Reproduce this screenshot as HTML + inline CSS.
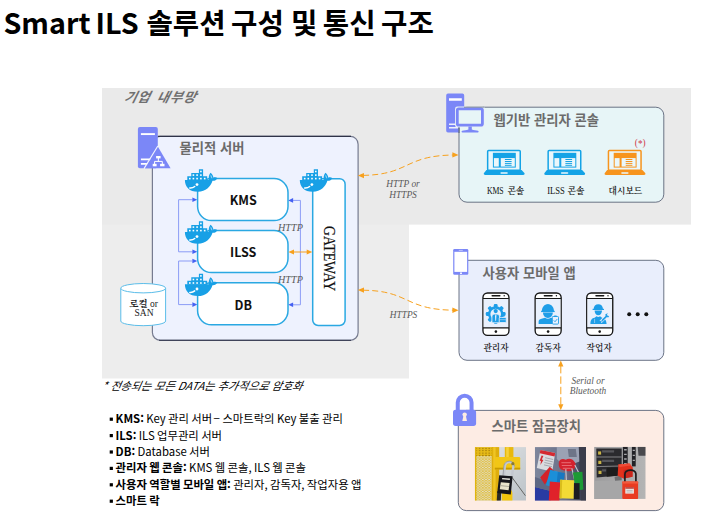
<!DOCTYPE html>
<html lang="ko">
<head>
<meta charset="utf-8">
<title>Smart ILS 솔루션 구성 및 통신 구조</title>
<style>
html,body{margin:0;padding:0;background:#fff;}
body{width:710px;height:528px;overflow:hidden;position:relative;font-family:"Noto Sans CJK KR","Liberation Sans",sans-serif;}
svg{position:absolute;left:0;top:0;display:block;}
.sans{font-family:"Noto Sans CJK KR","Liberation Sans",sans-serif;}
.serif{font-family:"Liberation Serif","Noto Serif CJK SC",serif;}
.ttl{font-weight:700;font-size:28.7px;fill:#000;}
.hd{font-weight:700;font-size:13.3px;fill:#6b6b6b;}
.box{font-weight:700;font-size:12.5px;fill:#111;}
.sm{font-size:9.4px;fill:#5a5a5a;font-style:italic;}
.lab{font-size:8.7px;fill:#111;font-weight:600;}
.bl{font-size:11.35px;fill:#000;word-spacing:-0.8px;}
.b{font-weight:700;}
.lat{font-size:8px;font-weight:400;}
</style>
</head>
<body>
<svg width="710" height="528" viewBox="0 0 710 528">
<defs>
  <g id="whale">
    <path fill="#18a0e6" d="M0 10.6 H23.9 C23.5 8 24.1 5.2 25.6 3.5 C27.3 4.8 28.3 6.6 28.5 8.4 C29.8 7.8 31.6 8 32.6 8.9 C31.6 10.7 29.6 11.7 27.6 11.5 C25.6 17.5 21 22.4 13 22.4 C4.5 22.4 0 17.5 0 10.6 Z"/>
    <path fill="#18a0e6" d="M2.4 11 V7 H6.4 V3.6 H14 V0 H18.2 V7 H22.3 V11 Z"/>
    <path fill="#8fd0f3" d="M25.7 5.2 C26.9 6.4 27.5 8 27.3 9.4 C26 8.6 25.3 6.9 25.7 5.2 Z"/>
    <g fill="#fff">
      <rect x="4.1" y="8.5" width="1.6" height="1.6"/><rect x="7.7" y="8.5" width="1.6" height="1.6"/><rect x="11.4" y="8.5" width="1.6" height="1.6"/><rect x="15.2" y="8.5" width="1.6" height="1.6"/><rect x="19" y="8.5" width="1.6" height="1.6"/>
      <rect x="7.7" y="5" width="1.6" height="1.6"/><rect x="11.4" y="5" width="1.6" height="1.6"/><rect x="15.2" y="5" width="1.6" height="1.6"/>
      <rect x="15.2" y="1.4" width="1.6" height="1.6"/>
    </g>
    <circle cx="12.1" cy="15.3" r="1.4" fill="#fff"/>
    <path d="M4.9 18.7 C6.6 18.9 8.6 18.2 9.8 17.2" fill="none" stroke="#fff" stroke-width="1.5" stroke-linecap="round"/>
  </g>
  <marker id="ab" markerWidth="6" markerHeight="6" refX="5.5" refY="3" orient="auto" markerUnits="userSpaceOnUse"><path d="M0 0.4 L5.5 3 L0 5.6 Z" fill="#3f5cf0"/></marker>
  <marker id="ao" markerWidth="7" markerHeight="7" refX="6" refY="3.5" orient="auto" markerUnits="userSpaceOnUse"><path d="M0 0.7 L6 3.5 L0 6.3 Z" fill="#f7a01c"/></marker>
  <marker id="aos" markerWidth="7" markerHeight="7" refX="6" refY="3.5" orient="auto-start-reverse" markerUnits="userSpaceOnUse"><path d="M0 0.7 L6 3.5 L0 6.3 Z" fill="#f7a01c"/></marker>
  <g id="laptop">
    <rect x="3.85" y="0.75" width="32.6" height="19.6" rx="1" fill="#eaf7fb" stroke="currentColor" stroke-width="1.5"/>
    <rect x="9.1" y="3" width="22.9" height="14.8" fill="currentColor"/>
    <rect x="10.1" y="8.3" width="4.9" height="8.5" fill="#eaf7fb"/>
    <rect x="17" y="8.3" width="14" height="8.5" fill="#eaf7fb"/>
    <path d="M21.1 9.7H27.8M21.1 11.7H27.8M21.1 13.6H27.8M21.1 15.5H27.8" stroke="currentColor" stroke-width="1"/>
    <path d="M2.6 20.2 H37.8 L40.6 23.2 C41.2 24.2 40.6 25.2 39.4 25.2 H1.4 C0.2 25.2 -0.4 24.2 0.2 23.2 Z" fill="currentColor"/>
    <rect x="16.6" y="22.4" width="7.4" height="1.6" rx="0.8" fill="#eaf7fb"/>
  </g>
  <g id="phone">
    <rect x="0.75" y="0.75" width="26" height="42.4" rx="4.6" fill="#fff" stroke="#161616" stroke-width="1.35"/>
    <rect x="1.5" y="6.4" width="24.5" height="29.2" fill="#e9f0fc"/>
    <path d="M0.8 6.3 H26.7 M0.8 35.7 H26.7" stroke="#161616" stroke-width="1.1"/>
    <path d="M10 3.6 H17.6" stroke="#161616" stroke-width="1.5" stroke-linecap="round"/>
    <circle cx="22" cy="3.6" r="0.7" fill="#161616"/>
    <circle cx="13.7" cy="39.4" r="1.3" fill="#161616"/>
  </g>
  <g id="ic1" fill="#1e9ee8">
    <rect x="11.60" y="11.90" width="3.8" height="4" rx="1.1" transform="rotate(0 13.5 21.8)"/><rect x="11.60" y="11.90" width="3.8" height="4" rx="1.1" transform="rotate(45 13.5 21.8)"/><rect x="11.60" y="11.90" width="3.8" height="4" rx="1.1" transform="rotate(90 13.5 21.8)"/><rect x="11.60" y="11.90" width="3.8" height="4" rx="1.1" transform="rotate(135 13.5 21.8)"/><rect x="11.60" y="11.90" width="3.8" height="4" rx="1.1" transform="rotate(180 13.5 21.8)"/><rect x="11.60" y="11.90" width="3.8" height="4" rx="1.1" transform="rotate(225 13.5 21.8)"/><rect x="11.60" y="11.90" width="3.8" height="4" rx="1.1" transform="rotate(270 13.5 21.8)"/><rect x="11.60" y="11.90" width="3.8" height="4" rx="1.1" transform="rotate(315 13.5 21.8)"/>
    <circle cx="13.5" cy="21.8" r="7.7"/>
    <circle cx="13.5" cy="21.8" r="5.3" fill="#e9f0fc"/>
    <path d="M9.7 30.6 V24.6 C9.7 22.8 10.9 21.9 12.3 21.9 H14.7 C16.1 21.9 17.3 22.8 17.3 24.6 V30.6 Z" stroke="#e9f0fc" stroke-width="0.9"/>
    <circle cx="13.5" cy="18.9" r="2.1"/>
    <path d="M13.5 22.4 L14.2 23.4 L13.9 28.2 L13.5 29 L13.1 28.2 L12.8 23.4 Z" fill="#e9f0fc"/>
    <rect x="17" y="25.3" width="7" height="5" rx="0.6" stroke="#e9f0fc" stroke-width="0.8"/>
    <path d="M19.2 25 V24 H21.8 V25" fill="none" stroke="#1e9ee8" stroke-width="0.8"/>
    <path d="M17.4 27.5 H23.6" stroke="#e9f0fc" stroke-width="0.5"/>
  </g>
  <g id="ic2" fill="#1e9ee8">
    <path d="M7.4 19.4 C7.4 14.6 10 12 13.5 12 C17 12 19.6 14.6 19.6 19.4 Z"/>
    <path d="M6.7 18.6 H20.3 V19.9 H6.7 Z"/>
    <path d="M12.6 12.2 H14.4 V15.4 H12.6 Z" fill="#1e9ee8"/>
    <path d="M8.6 20.4 H18.4 C18.4 23.6 16.2 25.8 13.5 25.8 C10.8 25.8 8.6 23.6 8.6 20.4 Z"/>
    <path d="M4.2 31.8 V29.6 C4.2 27.6 5.6 26.6 8 26.2 L10.6 25.6 C12.4 27 14.6 27 16.4 25.6 L19 26.2 C21.4 26.6 22.8 27.6 22.8 29.6 V31.8 Z"/>
    <rect x="17.9" y="24.3" width="6.2" height="7.6" rx="0.8" fill="#e9f0fc" stroke="#1e9ee8" stroke-width="0.9"/>
    <rect x="19.6" y="23.4" width="2.8" height="1.5" rx="0.4"/>
    <path d="M19.4 28.2 L20.6 29.5 L22.8 26.9" fill="none" stroke="#1e9ee8" stroke-width="0.9"/>
  </g>
  <g id="ic3" fill="#1e9ee8">
    <path d="M7.6 17.2 C7.6 13.8 9.6 12 12.3 12 C15 12 17 13.8 17 17.2 Z"/>
    <path d="M6.6 16.6 H18 V17.8 H6.6 Z"/>
    <path d="M8.6 18.2 H16 C16 20.8 14.4 23 12.3 23 C10.2 23 8.6 20.8 8.6 18.2 Z"/>
    <path d="M4.4 31.8 C4.4 27.8 6 26 8.6 25.6 L10.6 24 C11.6 25 13 25 14 24 L16 25.6 C18.6 26 20.4 27.8 20.6 31.8 Z"/>
    <path d="M14.6 29.6 L20.2 24.2" stroke="#e9f0fc" stroke-width="3" fill="none"/>
    <path d="M14.8 29.6 L20.4 24.2" stroke="#1e9ee8" stroke-width="1.7" fill="none" stroke-linecap="round"/>
    <path d="M19.2 22.4 L20 24.6 L22.2 25.2 L23.2 23.8 L21.6 23.6 L21 22.2 L21.8 20.8 Z"/>
    <path d="M8.6 26.6 V30.8 M15.6 27.4 V30.8" stroke="#e9f0fc" stroke-width="0.5"/>
  </g>
  <pattern id="mesh1" width="3.2" height="2.4" patternUnits="userSpaceOnUse"><rect width="3.2" height="2.4" fill="#e6ba16"/><ellipse cx="1.6" cy="1.2" rx="0.9" ry="0.6" fill="#a67f0a"/></pattern>
  <pattern id="mesh2" width="3.2" height="2.4" patternUnits="userSpaceOnUse"><rect width="3.2" height="2.4" fill="#e3dfc8"/><path d="M0 1.2 L1.6 0 L3.2 1.2 L1.6 2.4 Z" fill="none" stroke="#e0b92a" stroke-width="0.7"/></pattern>
  <clipPath id="cp1"><rect x="0" y="0" width="51.2" height="53.6"/></clipPath>
  <clipPath id="cp2"><rect x="0" y="0" width="51.2" height="53.6"/></clipPath>
  <clipPath id="cp3"><rect x="0" y="0" width="51.6" height="52.1"/></clipPath>
  <filter id="soft" x="-5%" y="-5%" width="110%" height="110%"><feGaussianBlur stdDeviation="0.35"/></filter>
  <linearGradient id="g1bg" x1="0" x2="1" y1="0" y2="1"><stop offset="0" stop-color="#e4e6e8"/><stop offset="1" stop-color="#bcc3c8"/></linearGradient>
  <linearGradient id="g2bg" x1="0" x2="1" y1="0" y2="0"><stop offset="0" stop-color="#7d869c"/><stop offset="0.6" stop-color="#6a7088"/><stop offset="1" stop-color="#35384a"/></linearGradient>
  <linearGradient id="g3bg" x1="0" x2="1" y1="0" y2="0"><stop offset="0" stop-color="#9c9c9e"/><stop offset="1" stop-color="#b4b4b4"/></linearGradient>
</defs>

<!-- background regions -->
<rect x="102" y="224" width="307" height="154.5" fill="#ededed"/>
<rect x="102" y="88" width="589" height="136.6" fill="#eaeaea"/>

<!-- physical server box -->
<rect x="152.4" y="136.4" width="205.7" height="203.9" rx="7.8" fill="#eef2fe" stroke="#767b90" stroke-width="1.2"/>
<path d="M158 136.4 H351 M159 340.3 H351" stroke="#2f3348" stroke-width="1.1" fill="none"/>

<!-- console box -->
<rect x="459" y="107.2" width="204.8" height="95" rx="8" fill="#e7f5f7" stroke="#5b6478" stroke-width="0.9"/>
<!-- mobile box -->
<rect x="459" y="260.3" width="204.8" height="100" rx="8" fill="#e9eefc" stroke="#5b6478" stroke-width="0.9"/>
<!-- lock box -->
<rect x="458.3" y="410.4" width="205.5" height="100.2" rx="8" fill="#fdece4" stroke="#5b6478" stroke-width="0.9"/>

<!-- ===== server section ===== -->
<text class="sans" x="123.4" y="101.6" style="font-size:13.4px;font-style:italic;font-weight:700;fill:#707070;letter-spacing:0.9px;word-spacing:1.6px" transform="translate(123.4 101.6) skewX(-14) translate(-123.4 -101.6)">기업 내부망</text>

<!-- server icon -->
<g>
  <rect x="137.9" y="126.9" width="19.9" height="41.4" rx="2" fill="#7b87f7"/>
  <path d="M140.9 134.1 H154.9" stroke="#fff" stroke-width="1.9"/>
  <path d="M140.9 159.4 H150.5 M140.9 163.9 H147.5" stroke="#fff" stroke-width="1.6"/>
  <path d="M158.1 146.9 L170.6 168.3 H144.9 Z" fill="#7b87f7"/>
  <path d="M157.8 146 L144 168.6" stroke="#f4f5fe" stroke-width="1.1"/>
  <g fill="#fff"><rect x="156.1" y="156" width="4.5" height="2.4"/><rect x="152.7" y="163.8" width="3.9" height="2.5"/><rect x="160.1" y="163.8" width="4.4" height="2.5"/></g>
  <path d="M158.35 158 V161.4 M154.6 164 V161.4 H162.3 V164" stroke="#fff" stroke-width="1" fill="none"/>
</g>
<text class="sans hd" x="179.5" y="153.3">물리적 서버</text>

<!-- blue connectors (left) -->
<g fill="none" stroke="#8b9cf6" stroke-width="1">
  <path d="M192.5 199.7 H178.6 V251.8 H192.5"/>
  <path d="M192.5 261 H178.6 V304.6 H192.5"/>
  <path d="M293 200.4 H300.4 V304.8 H293"/>
</g>
<g fill="#4561f2">
  <path d="M197.3 199.7 L192.4 197.4 V202.0 Z"/><path d="M197.3 251.8 L192.4 249.5 V254.1 Z"/>
  <path d="M197.3 261 L192.4 258.7 V263.3 Z"/><path d="M197.3 304.6 L192.4 302.3 V306.9 Z"/>
  <path d="M288.2 200.4 L293.1 198.1 V202.7 Z"/><path d="M288.2 304.8 L293.1 302.5 V307.1 Z"/>
</g>

<!-- service boxes -->
<g fill="#fff" stroke="#2aa8e2" stroke-width="1.5">
  <rect x="197.6" y="178.6" width="90.4" height="42" rx="14"/>
  <rect x="197.6" y="230.6" width="90.4" height="42" rx="14"/>
  <rect x="197.6" y="282.8" width="90.4" height="42" rx="14"/>
  <rect x="312.7" y="178.7" width="32.4" height="146.8" rx="5.5"/>
</g>
<use href="#whale" x="184.9" y="169.3"/>
<use href="#whale" x="184.9" y="221.3"/>
<use href="#whale" x="184.9" y="273.7"/>
<use href="#whale" x="299.8" y="169.3"/>
<text class="sans box" x="243.2" y="205.2" text-anchor="middle">KMS</text>
<text class="sans box" x="243.2" y="257.3" text-anchor="middle">ILSS</text>
<text class="sans box" x="243.3" y="309.6" text-anchor="middle">DB</text>
<text class="serif" transform="translate(324.3 226) rotate(90) scale(0.86 1)" style="font-size:16px;fill:#111;stroke:#111;stroke-width:0.2px">GATEWAY</text>

<!-- orange ILSS <-> gateway -->
<path d="M293.5 252 H307" stroke="#f7a01c" stroke-width="1" fill="none"/>
<path d="M288.4 252 L294 249.4 V254.6 Z M312.3 252 L306.7 249.4 V254.6 Z" fill="#f7a01c"/>
<text class="serif sm" x="278" y="230.8" style="font-size:10.2px">HTTP</text>
<text class="serif sm" x="278" y="282.8" style="font-size:10.2px">HTTP</text>

<!-- storage cylinder -->
<g stroke="#5bbde9" stroke-width="1" fill="#fff">
  <path d="M120.8 288.2 V321 A22.4 4.7 0 0 0 165.6 321 V288.2"/>
  <ellipse cx="143.2" cy="288.2" rx="22.4" ry="4.7"/>
</g>
<text class="serif" x="143.6" y="306.8" text-anchor="middle" style="font-size:9.5px;fill:#222"><tspan style="font-weight:700">로컬</tspan> or</text>
<text class="serif" x="144" y="315.6" text-anchor="middle" style="font-size:9.5px;fill:#222">SAN</text>

<!-- ===== console section ===== -->
<g>
  <path d="M448 93.6 H462.4 A1.8 1.8 0 0 1 464.2 95.4 V107.3 H459 V132.5 H448 A1.8 1.8 0 0 1 446.2 130.7 V95.4 A1.8 1.8 0 0 1 448 93.6 Z" fill="#7b87f7"/>
  <path d="M449 99.5 H461.8" stroke="#fff" stroke-width="2.5"/>
  <path d="M449 124.3 H455.4 M449 127.7 H458" stroke="#eef0fb" stroke-width="1.5"/>
  <rect x="455" y="106.5" width="29.8" height="21" rx="2.4" fill="#e9f1f6"/>
  <path d="M459 127.4 V133" stroke="#5b6478" stroke-width="1.1"/>
  <rect x="457.3" y="108.8" width="25.1" height="16.4" rx="1.4" fill="#e7f5f7" stroke="#7b87f7" stroke-width="2.8"/>
  <path d="M464 107.2 H484" stroke="#5b6478" stroke-width="0.9" opacity="0.75"/>
  <path d="M468.4 126.4 H471.8 V129.4 C473.6 130 476.4 130.2 478 130.8 C479 131.2 478.8 132.5 477.8 132.5 H462.4 C461.4 132.5 461.2 131.2 462.2 130.8 C463.8 130.2 466.6 130 468.4 129.4 Z" fill="#7b87f7"/>
</g>
<text class="sans hd" x="493.6" y="125">웹기반 관리자 콘솔</text>
<use href="#laptop" x="483.8" y="149.8" color="#14a3e6"/>
<use href="#laptop" x="544.3" y="149.8" color="#14a3e6"/>
<use href="#laptop" x="604.6" y="149.8" color="#f7941d"/>
<text class="serif" x="486.9" y="193.9" textLength="16.8" lengthAdjust="spacingAndGlyphs" style="font-size:10px;fill:#111">KMS</text><text class="serif lab" x="507.4" y="194">콘솔</text>
<text class="serif" x="547.2" y="193.9" textLength="17.6" lengthAdjust="spacingAndGlyphs" style="font-size:10px;fill:#111">ILSS</text><text class="serif lab" x="567.5" y="194">콘솔</text>
<text class="serif lab" x="625.4" y="194" text-anchor="middle">대시보드</text>
<text class="serif" x="634.8" y="145.6" style="font-size:9.3px;fill:#cf3a48">(<tspan dy="1.7">*</tspan><tspan dy="-1.7">)</tspan></text>

<!-- ===== mobile section ===== -->
<rect x="453.2" y="249" width="15.1" height="25.7" rx="1.3" fill="#7b87f7"/>
<rect x="454.4" y="251.8" width="12.7" height="20.1" fill="#fff"/>
<path d="M458.8 250.4 H462.8" stroke="#cfd4fc" stroke-width="0.8"/>
<rect x="460.1" y="272.5" width="1.8" height="1.5" fill="#fff"/>
<text class="sans hd" x="482.6" y="278">사용자 모바일 앱</text>
<use href="#phone" x="482.2" y="292.2"/><use href="#ic1" x="482.2" y="292.2"/>
<use href="#phone" x="534.4" y="292.2"/><use href="#ic2" x="534.4" y="292.2"/>
<use href="#phone" x="586" y="292.2"/><use href="#ic3" x="586" y="292.2"/>
<text class="serif lab" x="496" y="351" text-anchor="middle">관리자</text>
<text class="serif lab" x="548.2" y="351" text-anchor="middle">감독자</text>
<text class="serif lab" x="599.2" y="351" text-anchor="middle">작업자</text>
<g fill="#111"><circle cx="629.2" cy="314.3" r="2"/><circle cx="637.7" cy="314.3" r="2"/><circle cx="646.3" cy="314.3" r="2"/></g>

<!-- ===== lock section ===== -->
<path d="M457.75 411 V402.6 A6.9 6.9 0 0 1 471.55 402.6 V411" fill="none" stroke="#7b87f7" stroke-width="4"/>
<rect x="453" y="409.8" width="23.1" height="16.1" rx="2.6" fill="#7b87f7"/>
<circle cx="464.65" cy="414.6" r="2.2" fill="#fdece2"/><path d="M463.5 415.5 H465.8 L467 421.1 H462.3 Z" fill="#fdece2"/>
<text class="sans hd" x="491.6" y="430.9">스마트 잠금장치</text>

<!-- ===== photos ===== -->
<g transform="translate(474.8 447.1)" clip-path="url(#cp1)"><g filter="url(#soft)">
  <rect width="51.2" height="53.6" fill="url(#g1bg)"/>
  <rect x="0" y="0" width="19" height="9" fill="url(#mesh1)"/>
  <rect x="0" y="9" width="19" height="44.6" fill="url(#mesh2)"/>
  <rect x="0" y="0" width="1.6" height="53.6" fill="#e0b410"/>
  <rect x="17" y="0" width="7.4" height="53.6" fill="#dfae08"/>
  <rect x="18.4" y="0" width="2.4" height="53.6" fill="#f0c526"/>
  <rect x="30" y="0" width="8.6" height="22" fill="#e9b90c"/>
  <rect x="31.4" y="0" width="2.6" height="22" fill="#f6d23a"/>
  <path d="M27 53.6 V45 C27 42.4 29 41.4 32 41.4 C35.4 41.4 37.4 43 37.6 46 V53.6 Z" fill="#f1c410"/>
  <rect x="20" y="10" width="25.4" height="12.4" rx="1.2" fill="#f2c616"/>
  <rect x="20" y="20.6" width="25.4" height="1.8" fill="#c79a06"/>
  <path d="M37 30 L50.6 48.6" stroke="#5a5a58" stroke-width="0.9"/>
  <path d="M22.6 44 L26.4 44.6 L26 53.6 H22 Z" fill="#2a2a28"/>
  <path d="M29 30 L30 19.6 C30.4 13.6 38.6 13.4 38.6 19.4 L37 30" fill="none" stroke="#c4c8cf" stroke-width="2.4"/>
  <path d="M28 30 L29 19.6 C29.4 12.4 39.6 12.2 39.6 19.4" fill="none" stroke="#7f838c" stroke-width="0.6"/>
  <circle cx="38" cy="16.6" r="1.6" fill="#8a7a30"/>
  <path d="M24.4 28.2 L37.8 29.2 L36 47.4 L22.4 45.8 Z" fill="#17181a"/>
  <path d="M27.4 30.8 L35.2 31.4 L35 32.8 L27.2 32.2 Z" fill="#e8e8e2"/>
  <path d="M26 35.2 L34.8 36 L33.8 43.2 L25 42.2 Z" fill="#e9e4cc"/>
  <path d="M26.2 38.6 L34.2 39.4" stroke="#6a6a60" stroke-width="0.5"/>
</g></g>

<g transform="translate(534.8 447.1)" clip-path="url(#cp2)"><g filter="url(#soft)">
  <rect width="51.2" height="53.6" fill="url(#g2bg)"/>
  <path d="M0 40 L16 44 L16 53.6 H0 Z" fill="#2c3aa2"/>
  <path d="M0 30 L18 36 L16 44 L0 40 Z" fill="#5f6884"/>
  <path d="M22 0 H44 L46 14 L30 20 L22 12 Z" fill="#9ba2b4"/>
  <path d="M33 2 H41 L42 10 H34 Z" fill="#6e7488"/>
  <path d="M44 0 H51.2 V53.6 H46 Z" fill="#3a3c4c"/>
  <path d="M5.6 2.8 L20.4 6 L17.4 24.6 L2 21 Z" fill="#d9dbe0"/>
  <path d="M5.6 2.8 L20.4 6 L19.8 9.4 L5 6.2 Z" fill="#d42a30"/>
  <path d="M6.8 8.4 L8.6 8.8 L7 12.4 L8.6 12.8 L5.6 18 L6.2 14 L4.8 13.6 Z" fill="#d42a30"/>
  <path d="M10.4 10.6 L18.4 12.4 M10 13 L18 14.8 M9.6 15.4 L17.6 17.2 M9.2 17.8 L17.2 19.6" stroke="#8e9098" stroke-width="0.7"/>
  <path d="M24 16 C24 12 28 11 31 12.6 C34 10.6 38 11.6 39.6 14.6 C41.6 16.6 41 20.6 38.4 22.6 C36 24.6 31 24.6 28 23 C25 22.6 23.6 19 24 16 Z" fill="#d3242e"/>
  <path d="M26.6 15.6 H36 M27 18.4 H37 M28 21.2 H36" stroke="#f08a90" stroke-width="0.7"/>
  <path d="M5.4 30.4 L15 19.6 L19.2 23.6 L10 37.4 Z" fill="#d3222a"/>
  <path d="M21 24 L19.6 35 M31 22 L31.6 33.6 M37 21 L40.6 36.6 M40 18 L44.6 27" stroke="#c4c8d2" stroke-width="1.1" fill="none"/>
  <path d="M38 25.4 L47.6 24.6 L48.6 42.4 L41 43.6 Z" fill="#1f9a34"/>
  <path d="M15.4 22.6 L26.6 25.4 L22.4 41 L11.2 38.2 Z" fill="#1e8fd8"/>
  <path d="M23 25 L30 26 L28.6 36 L22 35 Z" fill="#1878c2"/>
  <path d="M38.8 36 H44.8 V52 H38.8 Z" fill="#1d1e24"/>
  <path d="M15 34.4 L25.6 35.4 L24.6 53.6 H14 Z" fill="#e0212a"/>
  <path d="M25.4 32.6 L39.2 33.2 L38.8 51.6 L24.8 51.2 Z" fill="#f3da34"/>
  <path d="M25.4 32.6 L27.4 32.7 L26.8 51.3 L24.8 51.2 Z" fill="#d9bd1e"/>
</g></g>

<g transform="translate(594.1 446.8)" clip-path="url(#cp3)"><g filter="url(#soft)">
  <rect width="51.6" height="52.1" fill="url(#g3bg)"/>
  <rect x="0" y="34" width="28" height="18.1" fill="#a6a6a7"/>
  <path d="M2.2 1.6 H27.6 V28.4 L2.6 30.6 Z" fill="#2b2b2e"/>
  <path d="M2.2 10.2 H27.6 M2.4 19.8 L27.6 19.2" stroke="#8c8c8e" stroke-width="0.9"/>
  <path d="M12.6 21 L23.6 20.6 V29 L12.6 30 Z" fill="#1b1b1d"/>
  <path d="M8 4.6 H20 M8 14 H20 M8 23.6 H12" stroke="#55555a" stroke-width="2.2"/>
  <rect x="4" y="4.6" width="3" height="3.2" fill="#c9b347"/><rect x="4.2" y="14" width="3" height="3.2" fill="#c9b347"/><rect x="4.4" y="24" width="3" height="3.2" fill="#c9b347"/>
  <rect x="28.8" y="0" width="4.8" height="20.6" fill="#232326"/>
  <rect x="37.8" y="0" width="3.8" height="19.6" fill="#232326"/>
  <path d="M30 3 H32.6 M30 7.6 H32.6 M30 12.2 H32.6 M30 16.8 H32.6 M38.6 3.6 H40.8 M38.6 8.6 H40.8 M38.6 13.6 H40.8" stroke="#a9a9ac" stroke-width="1.4"/>
  <path d="M43.6 0 H51.6 V9 H44.4 Z" fill="#4a4a4e"/>
  <path d="M20.4 30 L27.6 28.6 V33.4 L21 34 Z" fill="#6e6e70"/>
  <path d="M24.2 17.6 L35.4 16.8 L38.6 20.6 L38.4 30 L29.4 31.6 L23.6 29 Z" fill="#e2301f"/>
  <path d="M24.2 17.6 L35.4 16.8 L37 18.8 L25.4 20.2 Z" fill="#f04c36"/>
  <path d="M29.4 23.2 L38.4 22 V30 L29.4 31.6 Z" fill="#c9261a"/>
  <path d="M30.8 36 V27.4 C30.8 22.6 41.6 21.6 41.8 27 V36" fill="none" stroke="#1c1c1e" stroke-width="1.7"/>
  <rect x="28.2" y="34.6" width="15.8" height="17.5" rx="0.9" fill="#e93a20"/>
  <rect x="28.2" y="34.6" width="15.8" height="2.2" fill="#f25a3c"/>
  <rect x="31.2" y="40.4" width="8.6" height="6.4" fill="#ece8e6"/>
  <rect x="31.2" y="40.4" width="8.6" height="1.5" fill="#b5322a"/>
  <path d="M32.4 43.6 H38.6 M32.4 45.2 H38.6" stroke="#8a8a8a" stroke-width="0.5"/>
</g></g>

<!-- ===== dashed orange connectors ===== -->
<g fill="none" stroke="#f7a11e" stroke-width="1" stroke-dasharray="6 3.2">
  <path d="M363 175.4 C410 174.5 404 155.6 453.5 155"/>
  <path d="M363 290.2 C410 290.8 404 309.6 453.5 310.2"/>
  <path d="M560.8 366 V405.5" stroke-dasharray="7.4 3"/>
</g>
<g fill="#f7a11e">
  <path d="M357.8 175.6 L364 172.9 V178.2 Z"/><path d="M458.6 154.9 L452.4 152.3 V157.6 Z"/>
  <path d="M357.8 290 L364 287.4 V292.7 Z"/><path d="M458.6 310.2 L452.4 307.6 V312.9 Z"/>
  <path d="M560.8 360.6 L558.2 366.6 H563.4 Z"/><path d="M560.8 410.3 L558.2 404.3 H563.4 Z"/>
</g>
<text class="serif sm" x="403" y="187" text-anchor="middle">HTTP or</text>
<text class="serif sm" x="403" y="197.6" text-anchor="middle">HTTPS</text>
<text class="serif sm" x="403.5" y="317.9" text-anchor="middle">HTTPS</text>
<text class="serif sm" x="588" y="383.9" text-anchor="middle">Serial or</text>
<text class="serif sm" x="588" y="394.4" text-anchor="middle">Bluetooth</text>

<!-- ===== notes ===== -->
<text class="sans" x="101.6" y="390.3" style="font-size:11.1px;font-style:italic;fill:#000" transform="translate(101.6 390.3) skewX(-12) translate(-101.6 -390.3)">* 전송되는 모든 DATA는 추가적으로 암호화</text>
<g fill="#000"><rect x="109.7" y="417.6" width="3.2" height="3.2"/><rect x="109.7" y="434.0" width="3.2" height="3.2"/><rect x="109.7" y="450.4" width="3.2" height="3.2"/><rect x="109.7" y="466.8" width="3.2" height="3.2"/><rect x="109.7" y="483.2" width="3.2" height="3.2"/><rect x="109.7" y="499.6" width="3.2" height="3.2"/></g>
<g class="sans bl">
<text x="108.9" y="423.2"><tspan x="115.6" class="b">KMS:</tspan> Key 관리 서버 <tspan dx="-1.4" textLength="6.8" lengthAdjust="spacingAndGlyphs">–</tspan> 스마트락의 Key 불출 관리</text>
<text x="108.9" y="439.6"><tspan x="115.6" class="b">ILS:</tspan> ILS 업무관리 서버</text>
<text x="108.9" y="456"><tspan x="115.6" class="b">DB:</tspan> Database 서버</text>
<text x="108.9" y="472.4"><tspan x="115.6" class="b">관리자 웹 콘솔:</tspan> KMS 웹 콘솔, ILS 웹 콘솔</text>
<text x="108.9" y="488.8"><tspan x="115.6" class="b">사용자 역할별 모바일 앱:</tspan> 관리자, 감독자, 작업자용 앱</text>
<text x="108.9" y="505.2"><tspan x="115.6" class="b">스마트 락</tspan></text>
</g>

<!-- ===== title ===== -->
<text class="sans ttl" y="33.6"><tspan x="3.4">Smart</tspan> <tspan x="95.6">ILS</tspan> <tspan x="146.4">솔루션</tspan> <tspan x="231">구성</tspan> <tspan x="291">및</tspan> <tspan x="322.8">통신</tspan> <tspan x="381">구조</tspan></text>

</svg>
</body>
</html>
